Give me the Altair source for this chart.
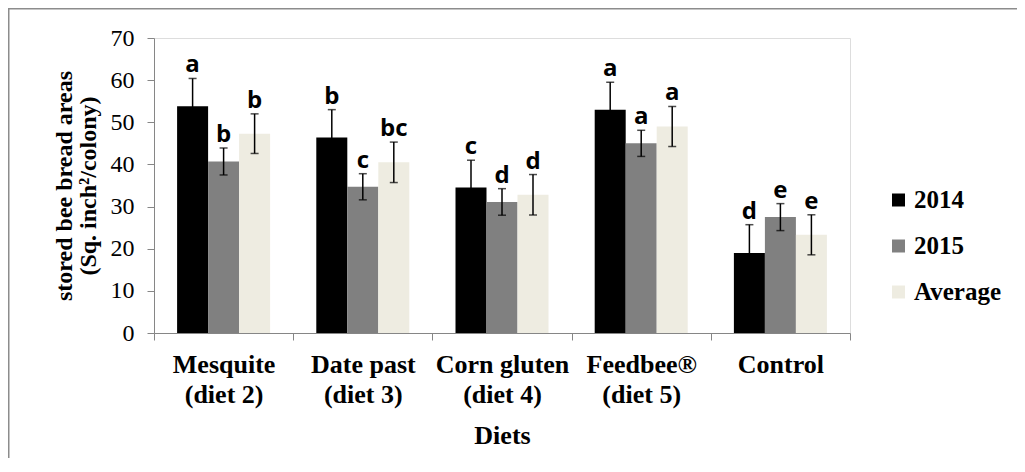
import altair as alt
import pandas as pd

diets = ["Mesquite\n(diet 2)", "Date past\n(diet 3)", "Corn gluten\n(diet 4)",
         "Feedbee®\n(diet 5)", "Control"]
series = ["2014", "2015", "Average"]
colors = ["#000000", "#808080", "#EEECE1"]

values_2014 = [53.8, 46.4, 34.5, 53.0, 19.0]
err_2014 = [6.6, 6.6, 6.5, 6.5, 6.7]
letters_2014 = ["a", "b", "c", "a", "d"]

values_2015 = [40.7, 34.7, 31.1, 45.0, 27.5]
err_2015 = [3.2, 3.1, 3.15, 3.1, 3.2]
letters_2015 = ["b", "c", "d", "a", "e"]

values_avg = [47.3, 40.5, 32.8, 49.0, 23.3]
err_avg = [4.7, 4.8, 4.8, 4.75, 4.75]
letters_avg = ["b", "bc", "d", "a", "e"]

rows = []
for s, vals, errs, lets in [("2014", values_2014, err_2014, letters_2014),
                            ("2015", values_2015, err_2015, letters_2015),
                            ("Average", values_avg, err_avg, letters_avg)]:
    for d, v, e, l in zip(diets, vals, errs, lets):
        rows.append({"diet": d, "series": s, "value": v,
                     "lo": v - e, "hi": v + e, "letter": l})
df = pd.DataFrame(rows)

W, H = 696, 295
AX = "#868686"
SERIF = "Liberation Serif, Times New Roman, serif"

x_enc = alt.X("diet:N", sort=diets,
              scale=alt.Scale(paddingInner=0, paddingOuter=0),
              axis=alt.Axis(title="Diets", labelAngle=0, labelFont=SERIF,
                            labelFontSize=26, labelFontWeight="bold",
                            labelColor="black", labelLineHeight=30,
                            labelExpr="split(datum.label, '\\n')",
                            labelOverlap=False, labelPadding=11,
                            tickBand="extent", tickSize=7, tickColor=AX,
                            domainColor=AX, titleFont=SERIF,
                            titleFontSize=26, titleFontWeight="bold",
                            titleColor="black", titlePadding=15))
xo_enc = alt.XOffset("series:N", sort=series,
                     scale=alt.Scale(paddingInner=0, paddingOuter=0.745))
y_scale = alt.Scale(domain=[0, 70], nice=False)

base = alt.Chart(df)

bars = base.mark_bar().encode(
    x=x_enc,
    xOffset=xo_enc,
    y=alt.Y("value:Q", scale=y_scale,
            axis=alt.Axis(values=[0, 10, 20, 30, 40, 50, 60, 70], grid=False,
                          labelFont=SERIF, labelFontSize=24,
                          labelColor="black", labelPadding=13,
                          tickSize=7, tickColor=AX, domainColor=AX,
                          title=["stored bee bread areas", "(Sq. inch²/colony)"],
                          titleFont=SERIF, titleFontSize=24,
                          titleFontWeight="bold", titleColor="black",
                          titleLineHeight=24, titlePadding=10)),
    color=alt.Color("series:N", sort=series,
                    scale=alt.Scale(domain=series, range=colors),
                    legend=alt.Legend(title=None, orient="none",
                                      legendX=732, legendY=149.5,
                                      symbolType="square", symbolSize=169,
                                      symbolStrokeWidth=0,
                                      labelFont=SERIF, labelFontSize=25,
                                      labelFontWeight="bold",
                                      labelColor="black", rowPadding=20,
                                      labelOffset=3, padding=0)),
)

err_rule = base.mark_rule(color="black", strokeWidth=1.5).encode(
    x=alt.X("diet:N", sort=diets), xOffset=xo_enc,
    y=alt.Y("lo:Q", scale=y_scale), y2="hi:Q")

cap_hi = base.mark_tick(color="black", thickness=1.5, size=8).encode(
    x=alt.X("diet:N", sort=diets), xOffset=xo_enc,
    y=alt.Y("hi:Q", scale=y_scale))
cap_lo = base.mark_tick(color="black", thickness=1.5, size=8).encode(
    x=alt.X("diet:N", sort=diets), xOffset=xo_enc,
    y=alt.Y("lo:Q", scale=y_scale))

letters = base.mark_text(font="Open Sans", fontSize=24, fontWeight="bold",
                         baseline="alphabetic", dy=-6, color="black").encode(
    x=alt.X("diet:N", sort=diets), xOffset=xo_enc,
    y=alt.Y("hi:Q", scale=y_scale), text="letter:N")

frame_df = pd.DataFrame({"k": [0]})
frame_top = alt.Chart(frame_df).mark_rule(color="#8c8c8c", strokeWidth=1.5).encode(
    x=alt.value(-146), x2=alt.value(W + 170), y=alt.value(-29.25))
frame_left = alt.Chart(frame_df).mark_rule(color="#8c8c8c", strokeWidth=1.5).encode(
    x=alt.value(-145.25), y=alt.value(-30), y2=alt.value(H + 130))

chart = alt.layer(bars, err_rule, cap_hi, cap_lo, letters, frame_top, frame_left).properties(
    width=W, height=H,
    autosize=alt.AutoSizeParams(type="none"),
    padding={"left": 146, "top": 30, "right": 1009 - 146 - W, "bottom": 125},
).configure_view(stroke=None).configure(background="white")

chart.save("out.html", embed_options={"renderer": "svg", "actions": False})
